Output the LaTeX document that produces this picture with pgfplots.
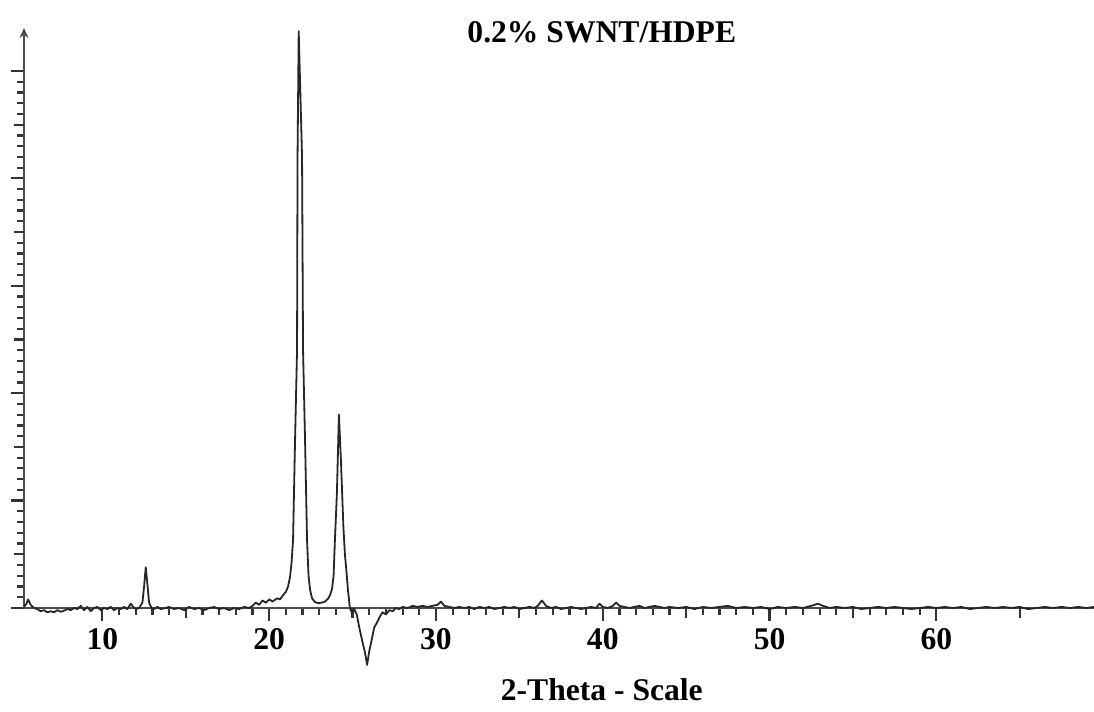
\documentclass[border=0pt]{standalone}
\usepackage{fontspec}
\setmainfont{Liberation Serif}
\usepackage{pgfplots}
\pgfplotsset{compat=1.18}
\usetikzlibrary{arrows.meta,calc}

\newcommand{\lblfont}{\fontsize{15.8}{18}\selectfont\bfseries}

\begin{document}
\begin{tikzpicture}
\begin{axis}[
  scale only axis,
  width=535pt, height=290pt,
  xmin=5.3, xmax=69.45, ymin=0, ymax=54,
  axis x line*=bottom, axis y line*=left,
  axis line style={draw=black!70, line width=1.1pt},
  y axis line style={-{Stealth[length=5pt,width=4.5pt]}},
  clip=false,
  tick align=outside,
  major tick length=6.5pt, minor tick length=3.3pt,
  tick style={black!80, line width=1.1pt},
  xtick={10,20,...,60},
  minor x tick num=9,
  extra x ticks={15,25,...,65}, extra x tick labels={},
  extra x tick style={major tick length=5pt},
  ytick={0,10,...,50}, yticklabels={},
  minor y tick num=9,
  extra y ticks={5,15,...,45}, extra y tick labels={},
  extra y tick style={major tick length=5pt},
  xticklabel style={font=\lblfont},
  /pgf/number format/assume math mode=true,
  xlabel={2-Theta - Scale},
  xlabel style={font=\lblfont, at={(rel axis cs:0.54,0)}, anchor=center, yshift=-41pt},
]
\coordinate (bl) at (rel axis cs:0,0);
\node[font=\lblfont, yshift=-2pt] at (rel axis cs:0.54,1) {0.2\% SWNT/HDPE};
\addplot[black!85, line width=0.9pt, no markers, line join=round] coordinates {
(5.3,0.1) (5.45,0.4) (5.55,0.8) (5.7,0.3) (5.9,0.0) (6.1,-0.1) (6.3,-0.3)
(6.5,-0.2) (6.7,-0.4) (6.9,-0.3) (7.1,-0.4) (7.3,-0.2) (7.5,-0.35) (7.7,-0.25)
(7.9,-0.1) (8.1,-0.2) (8.3,0.0) (8.5,-0.1) (8.7,0.2) (8.9,-0.2) (9.1,0.1)
(9.3,-0.3) (9.5,0.0) (9.7,0.1) (9.9,-0.2) (10.1,0.0) (10.3,-0.1) (10.5,0.1)
(10.7,-0.2) (10.9,0.0) (11.1,-0.1) (11.3,0.1) (11.5,-0.1) (11.7,0.4) (11.85,0.1)
(12.0,-0.1) (12.2,0.0) (12.4,0.5) (12.5,2.0) (12.6,3.8) (12.7,2.2) (12.8,0.5)
(12.95,0.0) (13.1,-0.1) (13.3,0.1) (13.5,-0.1) (13.8,0.0) (14.0,0.1) (14.3,-0.1)
(14.6,0.0) (14.9,-0.2) (15.2,0.1) (15.5,-0.1) (15.8,0.0) (16.1,-0.2) (16.4,0.0)
(16.7,0.1) (17.0,-0.1) (17.3,0.0) (17.6,-0.2) (17.9,0.0) (18.2,-0.1) (18.5,0.1)
(18.8,0.0) (19.0,0.2) (19.2,0.5) (19.4,0.3) (19.6,0.7) (19.8,0.5) (20.0,0.8)
(20.2,0.6) (20.47,0.9) (20.65,0.8) (20.83,1.2) (21.0,1.5) (21.13,2.0) (21.25,2.9)
(21.34,4.2) (21.43,6.3) (21.55,15.6) (21.67,24) (21.70,42) (21.77,53.7) (21.97,42)
(22.03,24) (22.15,15.6) (22.27,6.3) (22.36,3.0) (22.45,1.7) (22.57,0.9) (22.75,0.55)
(22.93,0.45) (23.15,0.5) (23.35,0.6) (23.55,0.9) (23.65,1.2) (23.77,1.8) (23.86,3.0)
(23.94,6.3) (24.06,10.7) (24.18,18.0) (24.30,13.8) (24.45,7.5) (24.54,5.0) (24.66,2.9)
(24.72,1.7) (24.84,0) (24.97,-0.5) (25.1,-0.1) (25.25,-0.6) (25.4,-1.8)
(25.57,-3.0) (25.75,-4.2) (25.87,-5.3) (26.0,-4.0) (26.1,-3.3) (26.3,-1.8) (26.45,-1.4)
(26.6,-0.9) (26.8,-0.4) (27.0,-0.6) (27.2,-0.2) (27.4,-0.3) (27.6,0.0) (27.8,-0.1)
(28.0,0.1) (28.3,0.0) (28.6,0.2) (28.9,0.1) (29.2,0.2) (29.5,0.1) (29.8,0.2)
(30.1,0.3) (30.3,0.6) (30.5,0.2) (30.8,0.1) (31.1,0.0) (31.4,0.1) (31.7,0.0)
(32.0,0.1) (32.3,-0.1) (32.6,0.1) (32.9,0.0) (33.2,0.1) (33.5,-0.1) (33.8,0.0)
(34.1,0.1) (34.4,0.0) (34.7,0.1) (35.0,-0.1) (35.3,0.0) (35.6,0.1) (35.9,0.0)
(36.1,0.2) (36.35,0.7) (36.6,0.2) (36.9,0.0) (37.2,0.1) (37.5,-0.1) (37.8,0.0)
(38.1,0.1) (38.4,0.0) (38.7,-0.1) (39.0,0.0) (39.3,0.1) (39.6,0.0) (39.8,0.4)
(40.0,0.1) (40.3,0.0) (40.6,0.2) (40.8,0.5) (41.0,0.2) (41.3,0.1) (41.6,0.0)
(41.9,0.1) (42.2,0.2) (42.5,0.0) (42.8,0.1) (43.1,0.2) (43.4,0.1) (43.7,0.0)
(44.0,0.1) (44.5,0.0) (45.0,0.1) (45.5,-0.1) (46.0,0.1) (46.5,0.0) (47.0,0.1)
(47.5,0.2) (48.0,0.0) (48.5,0.1) (49.0,0.0) (49.5,0.1) (50.0,-0.1) (50.5,0.1)
(51.0,0.0) (51.5,0.1) (52.0,0.0) (52.5,0.2) (52.9,0.4) (53.2,0.2) (53.6,0.0)
(54.0,0.1) (54.5,0.0) (55.0,0.1) (55.5,-0.1) (56.0,0.0) (56.5,0.1) (57.0,0.0)
(57.5,0.1) (58.0,0.0) (58.5,-0.1) (59.0,0.0) (59.5,0.1) (60.0,0.0) (60.5,0.1)
(61.0,0.0) (61.5,0.1) (62.0,-0.1) (62.5,0.0) (63.0,0.1) (63.5,0.0) (64.0,0.1)
(64.5,0.0) (65.0,0.1) (65.5,-0.1) (66.0,0.0) (66.5,0.1) (67.0,0.0) (67.5,0.1)
(68.0,0.0) (68.5,0.1) (69.0,0.0) (69.45,0.1)
};
\end{axis}
\pgfresetboundingbox
\path[use as bounding box] ($(bl)+(-12pt,-52pt)$) rectangle ($(bl)+(535pt,304pt)$);
\end{tikzpicture}
\end{document}
